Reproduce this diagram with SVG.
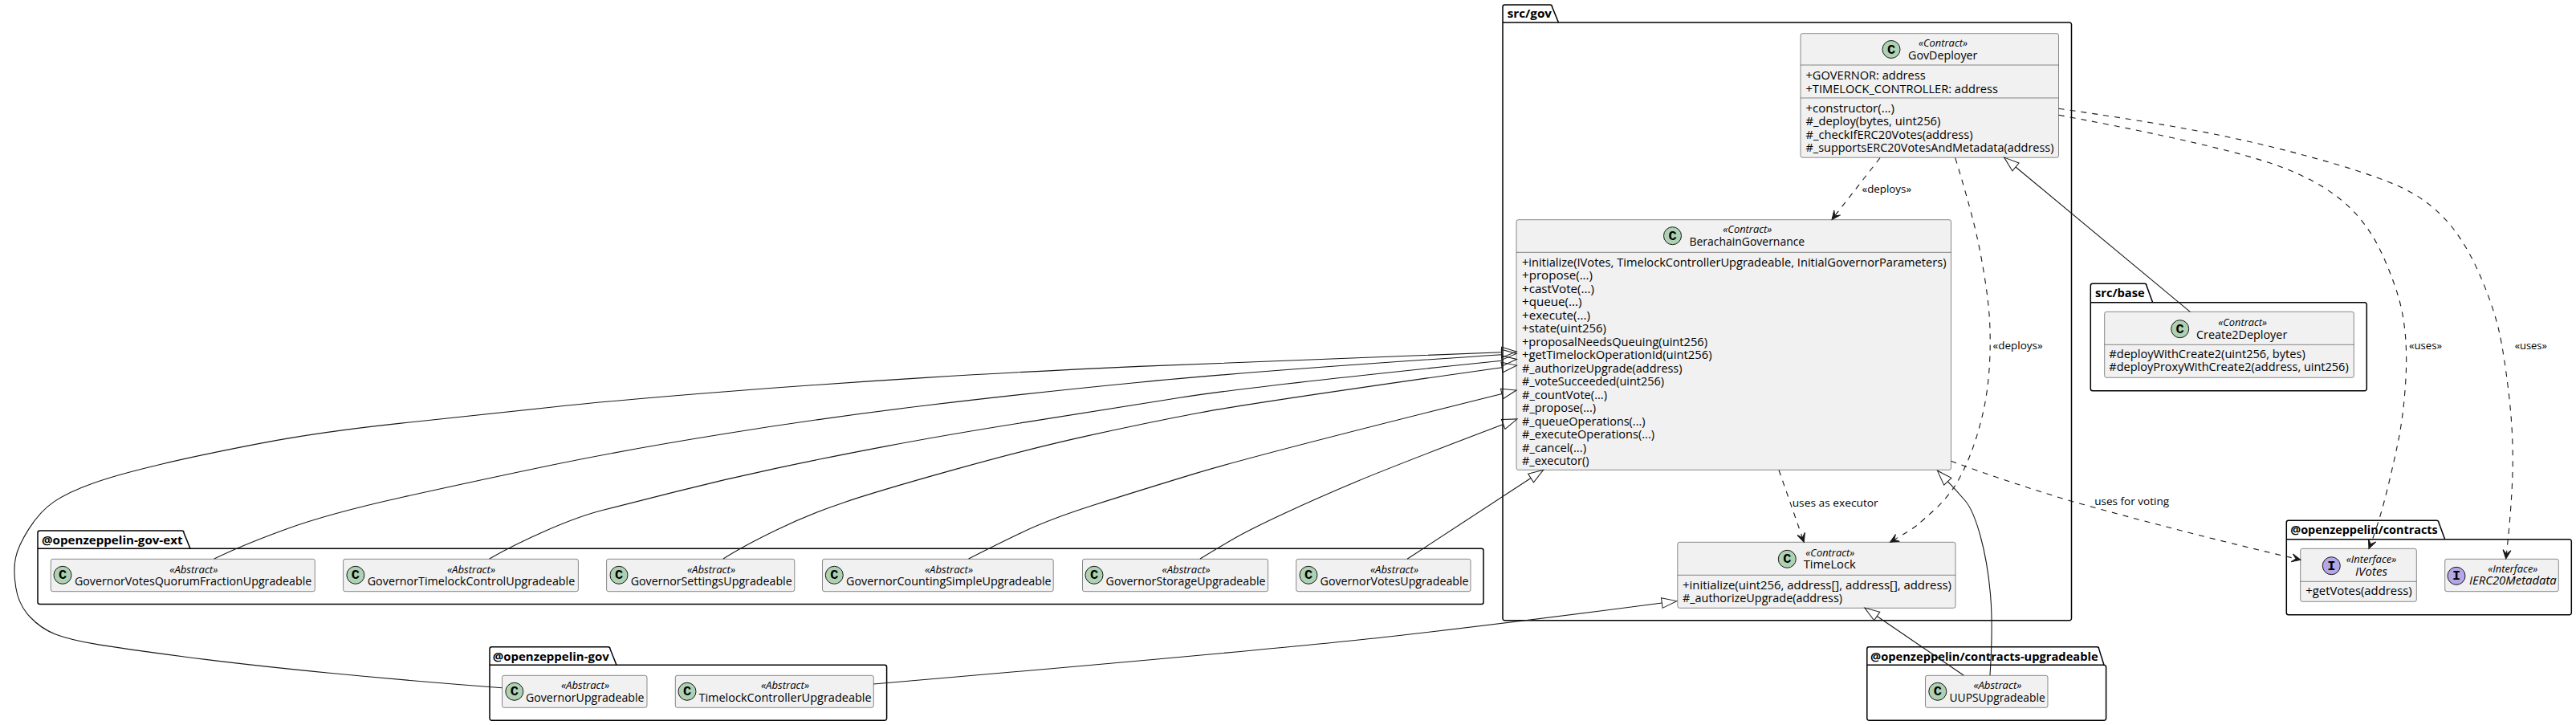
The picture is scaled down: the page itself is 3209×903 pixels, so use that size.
<svg xmlns="http://www.w3.org/2000/svg" width="3209" height="903" viewBox="0 0 3209 903">
<style>
text{font-family:"Open Sans","Noto Sans","DejaVu Sans",sans-serif;fill:#000;white-space:pre}
.pk{fill:none;stroke:#000;stroke-width:1.5}
.pl{font-weight:700;font-size:14px}
.bx{fill:#F1F1F1;stroke:#181818;stroke-width:.5}
.dv{stroke:#181818;stroke-width:.5;fill:none}
.st{font-style:italic;font-size:12px}
.nm{font-size:14px}
.it{font-size:14px;font-style:italic}
.rw{font-size:14px}
.lb{font-size:13px}
.cc{fill:#ADD1B2;stroke:#181818;stroke-width:1}
.ci{fill:#B4A7E5;stroke:#181818;stroke-width:1}
.gl{font-family:"Liberation Mono","DejaVu Sans Mono",monospace;font-weight:700;font-size:17px;text-anchor:middle}
.dp{fill:none;stroke:#181818;stroke-width:1.1;stroke-dasharray:7 7;marker-end:url(#open)}
.ih{fill:none;stroke:#181818;stroke-width:1.1;marker-end:url(#tri)}
</style>
<defs>
<marker id="open" markerUnits="userSpaceOnUse" orient="auto" markerWidth="1" markerHeight="1" overflow="visible"><path d="M0,0 L-11,-5 L-6,0 L-11,5 Z" fill="#181818" stroke="#181818" stroke-width="1" stroke-dasharray="none"/></marker>
<marker id="tri" markerUnits="userSpaceOnUse" orient="auto" markerWidth="1" markerHeight="1" overflow="visible"><path d="M0,-6.4 L18.6,0 L0,6.4 Z" fill="none" stroke="#181818" stroke-width="1"/></marker>
</defs>

<g id="pkg-src-gov"><path class="pk" d="M1874.5,6 L1931,6 A2.5,2.5 0 0 1 1933.5,8.5 L1941.5,28 L2578,28 A2.5,2.5 0 0 1 2580.5,30.5 L2580.5,770.2 A2.5,2.5 0 0 1 2578,772.7 L1874.5,772.7 A2.5,2.5 0 0 1 1872,770.2 L1872,8.5 A2.5,2.5 0 0 1 1874.5,6 Z M1872,28 L1941.5,28"/><text class="pl" x="1877.7" y="22" textLength="55.3" lengthAdjust="spacingAndGlyphs">src/gov</text></g>
<g id="pkg-gov-ext"><path class="pk" d="M49.5,661 L226.5,661 A2.5,2.5 0 0 1 229,663.5 L237,683.3 L1845.5,683.3 A2.5,2.5 0 0 1 1848,685.8 L1848,750 A2.5,2.5 0 0 1 1845.5,752.5 L49.5,752.5 A2.5,2.5 0 0 1 47,750 L47,663.5 A2.5,2.5 0 0 1 49.5,661 Z M47,683.3 L237,683.3"/><text class="pl" x="52" y="677.5" textLength="175.5" lengthAdjust="spacingAndGlyphs">@openzeppelin-gov-ext</text></g>
<g id="pkg-gov"><path class="pk" d="M612.5,805.7 L757.5,805.7 A2.5,2.5 0 0 1 760,808.2 L768,828.3 L1102.1,828.3 A2.5,2.5 0 0 1 1104.6,830.8 L1104.6,894.8 A2.5,2.5 0 0 1 1102.1,897.3 L612.5,897.3 A2.5,2.5 0 0 1 610,894.8 L610,808.2 A2.5,2.5 0 0 1 612.5,805.7 Z M610,828.3 L768,828.3"/><text class="pl" x="613.8" y="822.5" textLength="145" lengthAdjust="spacingAndGlyphs">@openzeppelin-gov</text></g>
<g id="pkg-uups"><path class="pk" d="M2328.3,805.7 L2612.2,805.7 A2.5,2.5 0 0 1 2614.7,808.2 L2621,828.3 A2.5,2.5 0 0 1 2623.6,830.8 L2623.6,894.8 A2.5,2.5 0 0 1 2621.1,897.3 L2328.3,897.3 A2.5,2.5 0 0 1 2325.8,894.8 L2325.8,808.2 A2.5,2.5 0 0 1 2328.3,805.7 Z M2325.8,828.3 L2621,828.3"/><text class="pl" x="2330" y="822.5" textLength="283.6" lengthAdjust="spacingAndGlyphs">@openzeppelin/contracts-upgradeable</text></g>
<g id="pkg-src-base"><path class="pk" d="M2606.8,353.3 L2671.5,353.3 A2.5,2.5 0 0 1 2674,355.8 L2681.7,376.7 L2945.8,376.7 A2.5,2.5 0 0 1 2948.3,379.2 L2948.3,484.2 A2.5,2.5 0 0 1 2945.8,486.7 L2606.8,486.7 A2.5,2.5 0 0 1 2604.3,484.2 L2604.3,355.8 A2.5,2.5 0 0 1 2606.8,353.3 Z M2604.3,376.7 L2681.7,376.7"/><text class="pl" x="2610" y="370" textLength="61.7" lengthAdjust="spacingAndGlyphs">src/base</text></g>
<g id="pkg-contracts"><path class="pk" d="M2850.8,648.3 L3035.5,648.3 A2.5,2.5 0 0 1 3038,650.8 L3045.7,671.7 L3200.8,671.7 A2.5,2.5 0 0 1 3203.3,674.2 L3203.3,763.2 A2.5,2.5 0 0 1 3200.8,765.7 L2850.8,765.7 A2.5,2.5 0 0 1 2848.3,763.2 L2848.3,650.8 A2.5,2.5 0 0 1 2850.8,648.3 Z M2848.3,671.7 L3045.7,671.7"/><text class="pl" x="2853.3" y="665" textLength="183.4" lengthAdjust="spacingAndGlyphs">@openzeppelin/contracts</text></g>

<g id="GovDeployer"><rect class="bx" x="2243" y="41.7" width="321.5" height="154.5" rx="2.5"/><path class="dv" d="M2243,81 H2564.5 M2243,122 H2564.5"/><circle class="cc" cx="2356" cy="61.5" r="11"/><text class="gl" x="2356" y="66.5">C</text><text class="st" x="2390" y="58" textLength="61" lengthAdjust="spacingAndGlyphs">«Contract»</text><text class="nm" x="2377" y="74" textLength="86.4" lengthAdjust="spacingAndGlyphs">GovDeployer</text>
<text class="rw" x="2249.5" y="99" textLength="149.2" lengthAdjust="spacingAndGlyphs">+GOVERNOR: address</text><text class="rw" x="2249.5" y="115.5" textLength="239.5" lengthAdjust="spacingAndGlyphs">+TIMELOCK_CONTROLLER: address</text>
<text class="rw" x="2249.5" y="139.5" textLength="110.5" lengthAdjust="spacingAndGlyphs">+constructor(...)</text><text class="rw" x="2249.5" y="156" textLength="167.9" lengthAdjust="spacingAndGlyphs">#_deploy(bytes, uint256)</text><text class="rw" x="2249.5" y="172.5" textLength="208.1" lengthAdjust="spacingAndGlyphs">#_checkIfERC20Votes(address)</text><text class="rw" x="2249.5" y="189" textLength="309" lengthAdjust="spacingAndGlyphs">#_supportsERC20VotesAndMetadata(address)</text></g>

<g id="BerachainGovernance"><rect class="bx" x="1889" y="273.7" width="541.5" height="311.6" rx="2.5"/><path class="dv" d="M1889,314.3 H2430.5"/><circle class="cc" cx="2083.5" cy="293.7" r="11"/><text class="gl" x="2083.5" y="298.7">C</text><text class="st" x="2146.3" y="290" textLength="61" lengthAdjust="spacingAndGlyphs">«Contract»</text><text class="nm" x="2104.5" y="306" textLength="143.7" lengthAdjust="spacingAndGlyphs">BerachainGovernance</text>
<text class="rw" x="1896" y="331.5" textLength="528.5" lengthAdjust="spacingAndGlyphs">+initialize(IVotes, TimelockControllerUpgradeable, InitialGovernorParameters)</text>
<text class="rw" x="1896" y="348" textLength="88" lengthAdjust="spacingAndGlyphs">+propose(...)</text>
<text class="rw" x="1896" y="364.5" textLength="90" lengthAdjust="spacingAndGlyphs">+castVote(...)</text>
<text class="rw" x="1896" y="381" textLength="74.5" lengthAdjust="spacingAndGlyphs">+queue(...)</text>
<text class="rw" x="1896" y="397.5" textLength="85" lengthAdjust="spacingAndGlyphs">+execute(...)</text>
<text class="rw" x="1896" y="414" textLength="105" lengthAdjust="spacingAndGlyphs">+state(uint256)</text>
<text class="rw" x="1896" y="430.5" textLength="231" lengthAdjust="spacingAndGlyphs">+proposalNeedsQueuing(uint256)</text>
<text class="rw" x="1896" y="447" textLength="236.6" lengthAdjust="spacingAndGlyphs">+getTimelockOperationId(uint256)</text>
<text class="rw" x="1896" y="463.5" textLength="199.5" lengthAdjust="spacingAndGlyphs">#_authorizeUpgrade(address)</text>
<text class="rw" x="1896" y="480" textLength="177" lengthAdjust="spacingAndGlyphs">#_voteSucceeded(uint256)</text>
<text class="rw" x="1896" y="496.5" textLength="106" lengthAdjust="spacingAndGlyphs">#_countVote(...)</text>
<text class="rw" x="1896" y="513" textLength="92" lengthAdjust="spacingAndGlyphs">#_propose(...)</text>
<text class="rw" x="1896" y="529.5" textLength="153.5" lengthAdjust="spacingAndGlyphs">#_queueOperations(...)</text>
<text class="rw" x="1896" y="546" textLength="165" lengthAdjust="spacingAndGlyphs">#_executeOperations(...)</text>
<text class="rw" x="1896" y="562.5" textLength="80" lengthAdjust="spacingAndGlyphs">#_cancel(...)</text>
<text class="rw" x="1896" y="579" textLength="83.5" lengthAdjust="spacingAndGlyphs">#_executor()</text></g>

<g id="TimeLock"><rect class="bx" x="2089.8" y="675.3" width="346.2" height="82" rx="2.5"/><path class="dv" d="M2089.8,716.3 H2436"/><circle class="cc" cx="2226.3" cy="696.3" r="11"/><text class="gl" x="2226.3" y="701.3">C</text><text class="st" x="2249.3" y="692.5" textLength="61" lengthAdjust="spacingAndGlyphs">«Contract»</text><text class="nm" x="2246.7" y="708" textLength="65" lengthAdjust="spacingAndGlyphs">TimeLock</text>
<text class="rw" x="2096" y="733.5" textLength="335" lengthAdjust="spacingAndGlyphs">+initialize(uint256, address[], address[], address)</text><text class="rw" x="2096" y="750" textLength="199" lengthAdjust="spacingAndGlyphs">#_authorizeUpgrade(address)</text></g>

<g id="Create2Deployer"><rect class="bx" x="2621.7" y="388.3" width="310.6" height="82" rx="2.5"/><path class="dv" d="M2621.7,429.3 H2932.3"/><circle class="cc" cx="2715.7" cy="409.7" r="11"/><text class="gl" x="2715.7" y="414.7">C</text><text class="st" x="2763.3" y="405.7" textLength="60.7" lengthAdjust="spacingAndGlyphs">«Contract»</text><text class="nm" x="2736" y="421.7" textLength="113.3" lengthAdjust="spacingAndGlyphs">Create2Deployer</text>
<text class="rw" x="2627.3" y="446" textLength="244.4" lengthAdjust="spacingAndGlyphs">#deployWithCreate2(uint256, bytes)</text><text class="rw" x="2627.3" y="462.3" textLength="298.4" lengthAdjust="spacingAndGlyphs">#deployProxyWithCreate2(address, uint256)</text></g>

<g id="GovernorVotesQuorumFractionUpgradeable"><rect class="bx" x="63.3" y="696.3" width="329" height="40.4" rx="2.5"/><circle class="cc" cx="78" cy="716.3" r="11"/><text class="gl" x="78" y="721.3">C</text><text class="st" x="211.3" y="713.5" textLength="60" lengthAdjust="spacingAndGlyphs">«Abstract»</text><text class="nm" x="92.9" y="729" textLength="295.4" lengthAdjust="spacingAndGlyphs">GovernorVotesQuorumFractionUpgradeable</text></g>
<g id="GovernorTimelockControlUpgradeable"><rect class="bx" x="427.6" y="696.3" width="292.8" height="40.4" rx="2.5"/><circle class="cc" cx="442.9" cy="716.3" r="11"/><text class="gl" x="442.9" y="721.3">C</text><text class="st" x="557" y="713.5" textLength="60" lengthAdjust="spacingAndGlyphs">«Abstract»</text><text class="nm" x="457.7" y="729" textLength="258.6" lengthAdjust="spacingAndGlyphs">GovernorTimelockControlUpgradeable</text></g>
<g id="GovernorSettingsUpgradeable"><rect class="bx" x="755.6" y="696.3" width="234.2" height="40.4" rx="2.5"/><circle class="cc" cx="771" cy="716.3" r="11"/><text class="gl" x="771" y="721.3">C</text><text class="st" x="856" y="713.5" textLength="60" lengthAdjust="spacingAndGlyphs">«Abstract»</text><text class="nm" x="785.7" y="729" textLength="201" lengthAdjust="spacingAndGlyphs">GovernorSettingsUpgradeable</text></g>
<g id="GovernorCountingSimpleUpgradeable"><rect class="bx" x="1024.5" y="696.3" width="287.7" height="40.4" rx="2.5"/><circle class="cc" cx="1039.3" cy="716.3" r="11"/><text class="gl" x="1039.3" y="721.3">C</text><text class="st" x="1152" y="713.5" textLength="60" lengthAdjust="spacingAndGlyphs">«Abstract»</text><text class="nm" x="1054" y="729" textLength="255.7" lengthAdjust="spacingAndGlyphs">GovernorCountingSimpleUpgradeable</text></g>
<g id="GovernorStorageUpgradeable"><rect class="bx" x="1348.5" y="696.3" width="231.1" height="40.4" rx="2.5"/><circle class="cc" cx="1363" cy="716.3" r="11"/><text class="gl" x="1363" y="721.3">C</text><text class="st" x="1447.6" y="713.5" textLength="60" lengthAdjust="spacingAndGlyphs">«Abstract»</text><text class="nm" x="1377.6" y="729" textLength="198.9" lengthAdjust="spacingAndGlyphs">GovernorStorageUpgradeable</text></g>
<g id="GovernorVotesUpgradeable"><rect class="bx" x="1614.7" y="696.3" width="217.3" height="40.4" rx="2.5"/><circle class="cc" cx="1630" cy="716.3" r="11"/><text class="gl" x="1630" y="721.3">C</text><text class="st" x="1707" y="713.5" textLength="60" lengthAdjust="spacingAndGlyphs">«Abstract»</text><text class="nm" x="1644.6" y="729" textLength="185" lengthAdjust="spacingAndGlyphs">GovernorVotesUpgradeable</text></g>

<g id="GovernorUpgradeable"><rect class="bx" x="625.5" y="841.3" width="180.5" height="40" rx="2.5"/><circle class="cc" cx="640.8" cy="861.3" r="11"/><text class="gl" x="640.8" y="866.3">C</text><text class="st" x="699" y="858" textLength="60" lengthAdjust="spacingAndGlyphs">«Abstract»</text><text class="nm" x="655" y="874" textLength="147.5" lengthAdjust="spacingAndGlyphs">GovernorUpgradeable</text></g>
<g id="TimelockControllerUpgradeable"><rect class="bx" x="841.3" y="841.3" width="247" height="40" rx="2.5"/><circle class="cc" cx="856" cy="861.3" r="11"/><text class="gl" x="856" y="866.3">C</text><text class="st" x="948" y="858" textLength="60" lengthAdjust="spacingAndGlyphs">«Abstract»</text><text class="nm" x="870.4" y="874" textLength="215.3" lengthAdjust="spacingAndGlyphs">TimelockControllerUpgradeable</text></g>
<g id="UUPSUpgradeable"><rect class="bx" x="2398.5" y="841.3" width="152.5" height="40" rx="2.5"/><circle class="cc" cx="2413.8" cy="861.3" r="11"/><text class="gl" x="2413.8" y="866.3">C</text><text class="st" x="2458.4" y="858" textLength="60" lengthAdjust="spacingAndGlyphs">«Abstract»</text><text class="nm" x="2428.5" y="874" textLength="119.2" lengthAdjust="spacingAndGlyphs">UUPSUpgradeable</text></g>

<g id="IVotes"><rect class="bx" x="2865.7" y="683.3" width="144.6" height="66" rx="2.5"/><path class="dv" d="M2865.7,724.3 H3010.3"/><circle class="ci" cx="2904.3" cy="704.7" r="11"/><text class="gl" x="2904.3" y="709.7">I</text><text class="st" x="2922.7" y="700.7" textLength="62.6" lengthAdjust="spacingAndGlyphs">«Interface»</text><text class="it" x="2934" y="716.7" textLength="40" lengthAdjust="spacingAndGlyphs">IVotes</text><text class="rw" x="2872.3" y="740.7" textLength="132.4" lengthAdjust="spacingAndGlyphs">+getVotes(address)</text></g>
<g id="IERC20Metadata"><rect class="bx" x="3045.7" y="696.3" width="141.6" height="40.4" rx="2.5"/><circle class="ci" cx="3060" cy="717.3" r="11"/><text class="gl" x="3060" y="722.3">I</text><text class="st" x="3099.3" y="712.7" textLength="62" lengthAdjust="spacingAndGlyphs">«Interface»</text><text class="it" x="3076" y="728.3" textLength="108.7" lengthAdjust="spacingAndGlyphs">IERC20Metadata</text></g>

<g id="connectors">
<path class="dp" d="M2342,196.7 L2282,273.5"/>
<text class="lb" x="2319.6" y="240" textLength="61.4" lengthAdjust="spacingAndGlyphs">«deploys»</text>
<path class="dp" d="M2435.7,196.7 Q2456.3,263.3 2464.6,303.2 Q2472.8,343 2476.6,376.5 Q2480.4,410 2478.7,448.4 Q2477,486.7 2469.3,518.4 Q2461.6,550 2451.6,573.4 Q2441.5,596.7 2432.1,609.9 Q2422.7,623 2409.9,634.9 Q2397,646.7 2389,653.4 Q2381,660 2354.4,675.3"/>
<text class="lb" x="2482.6" y="435" textLength="62" lengthAdjust="spacingAndGlyphs">«deploys»</text>
<path class="ih" d="M2728.3,388.3 L2511,208"/>
<path class="dp" d="M2564.5,143.3 Q2663.6,161.7 2732.3,177.5 Q2801,193.3 2835.5,205.7 Q2870,218 2895.5,234 Q2921,250 2938,270 Q2955,290 2966,313.4 Q2977,336.7 2985.5,362.4 Q2994,388 2996.5,418.6 Q2999,449.2 2996,486.5 Q2993.1,523.9 2986.3,555.6 Q2979.6,587.4 2971,621 Q2962.4,654.6 2951,683.3"/>
<text class="lb" x="3001" y="434.5" textLength="41" lengthAdjust="spacingAndGlyphs">«uses»</text>
<path class="dp" d="M2564.5,135.3 Q2691,153.3 2764.5,168.3 Q2838,183.3 2911.5,205 Q2985,226.7 3012.5,244.9 Q3040,263 3058.5,288 Q3077,313 3092,349 Q3107,385 3113.3,413.3 Q3119.6,441.7 3125.5,492.1 Q3131.3,542.5 3130,589.2 Q3128.6,635.9 3121.7,696"/>
<text class="lb" x="3132.7" y="434.5" textLength="40.2" lengthAdjust="spacingAndGlyphs">«uses»</text>
<path class="dp" d="M2216,585.5 L2247.3,675.3"/>
<text class="lb" x="2232.7" y="630.5" textLength="107" lengthAdjust="spacingAndGlyphs">uses as executor</text>
<path class="dp" d="M2430.5,574.3 Q2500,600 2582,624.7 Q2726.6,665 2866,697.3"/>
<text class="lb" x="2609.2" y="629" textLength="93" lengthAdjust="spacingAndGlyphs">uses for voting</text>
<path class="ih" d="M2479,841 Q2483,780 2479.5,740 Q2476,700 2467,667.5 Q2458,635 2448,623.5 Q2438,612 2426.3,599.7"/>
<path class="ih" d="M2446,841 L2338.2,767.5"/>
<path class="ih" d="M1088.3,852 Q1600,808 1743.5,791.5 Q1887,775 2070.3,751"/>
<path class="ih" d="M625.5,856.7 Q510,848 408,838 Q306,828 229.5,818 Q153,808 120,802.4 Q87,796.7 69,789.9 Q51,783 37,768 Q23,753 19.7,731.5 Q16.3,710 19.4,695 Q22.4,680 36.2,658.4 Q50,636.7 67.3,624.9 Q84.6,613 114.3,602.4 Q144,591.7 196.5,579.2 Q249,566.7 323.5,552.4 Q398,538 497.5,527.4 Q597,516.7 688.5,507 Q780,497.3 904.5,487.7 Q1029,478 1153.3,470.4 Q1277.5,462.7 1418.8,456.4 Q1560,450 1870.7,438.7"/>
<path class="ih" d="M266.8,696 Q301,679.3 354.5,659.7 Q408,640 502.5,619 Q597,598 688.5,579 Q780,560 904.5,540 Q1029,520 1153.3,505 Q1277.5,490 1418.8,476.2 Q1560,462.3 1870.7,441.7"/>
<path class="ih" d="M609.7,696 Q639,679 680,661 Q721,643 750.5,635.5 Q780,628 842,612.4 Q904,596.7 966.5,583.4 Q1029,570 1103.5,555.9 Q1178,541.7 1277.5,525.9 Q1377,510 1468.5,495.5 Q1560,481 1871,449.3"/>
<path class="ih" d="M901,696 Q926,680 967.5,660 Q1009,640 1051,625.9 Q1093,611.7 1185.3,585.9 Q1277.5,560 1352.3,543.4 Q1427,526.7 1493.5,514.2 Q1560,501.7 1871,457.7"/>
<path class="ih" d="M1206.6,696 Q1237.7,680 1272.4,663.4 Q1307,646.7 1362,629.2 Q1417,611.7 1488.5,589.9 Q1560,568 1871,490.5"/>
<path class="ih" d="M1495,696 Q1521,680 1540.5,669 Q1560,658 1600.9,639 Q1641.7,620 1689.4,600 Q1737,580 1872.7,528.5"/>
<path class="ih" d="M1753,696.3 L1907,595.5"/>
</g>
</svg>
